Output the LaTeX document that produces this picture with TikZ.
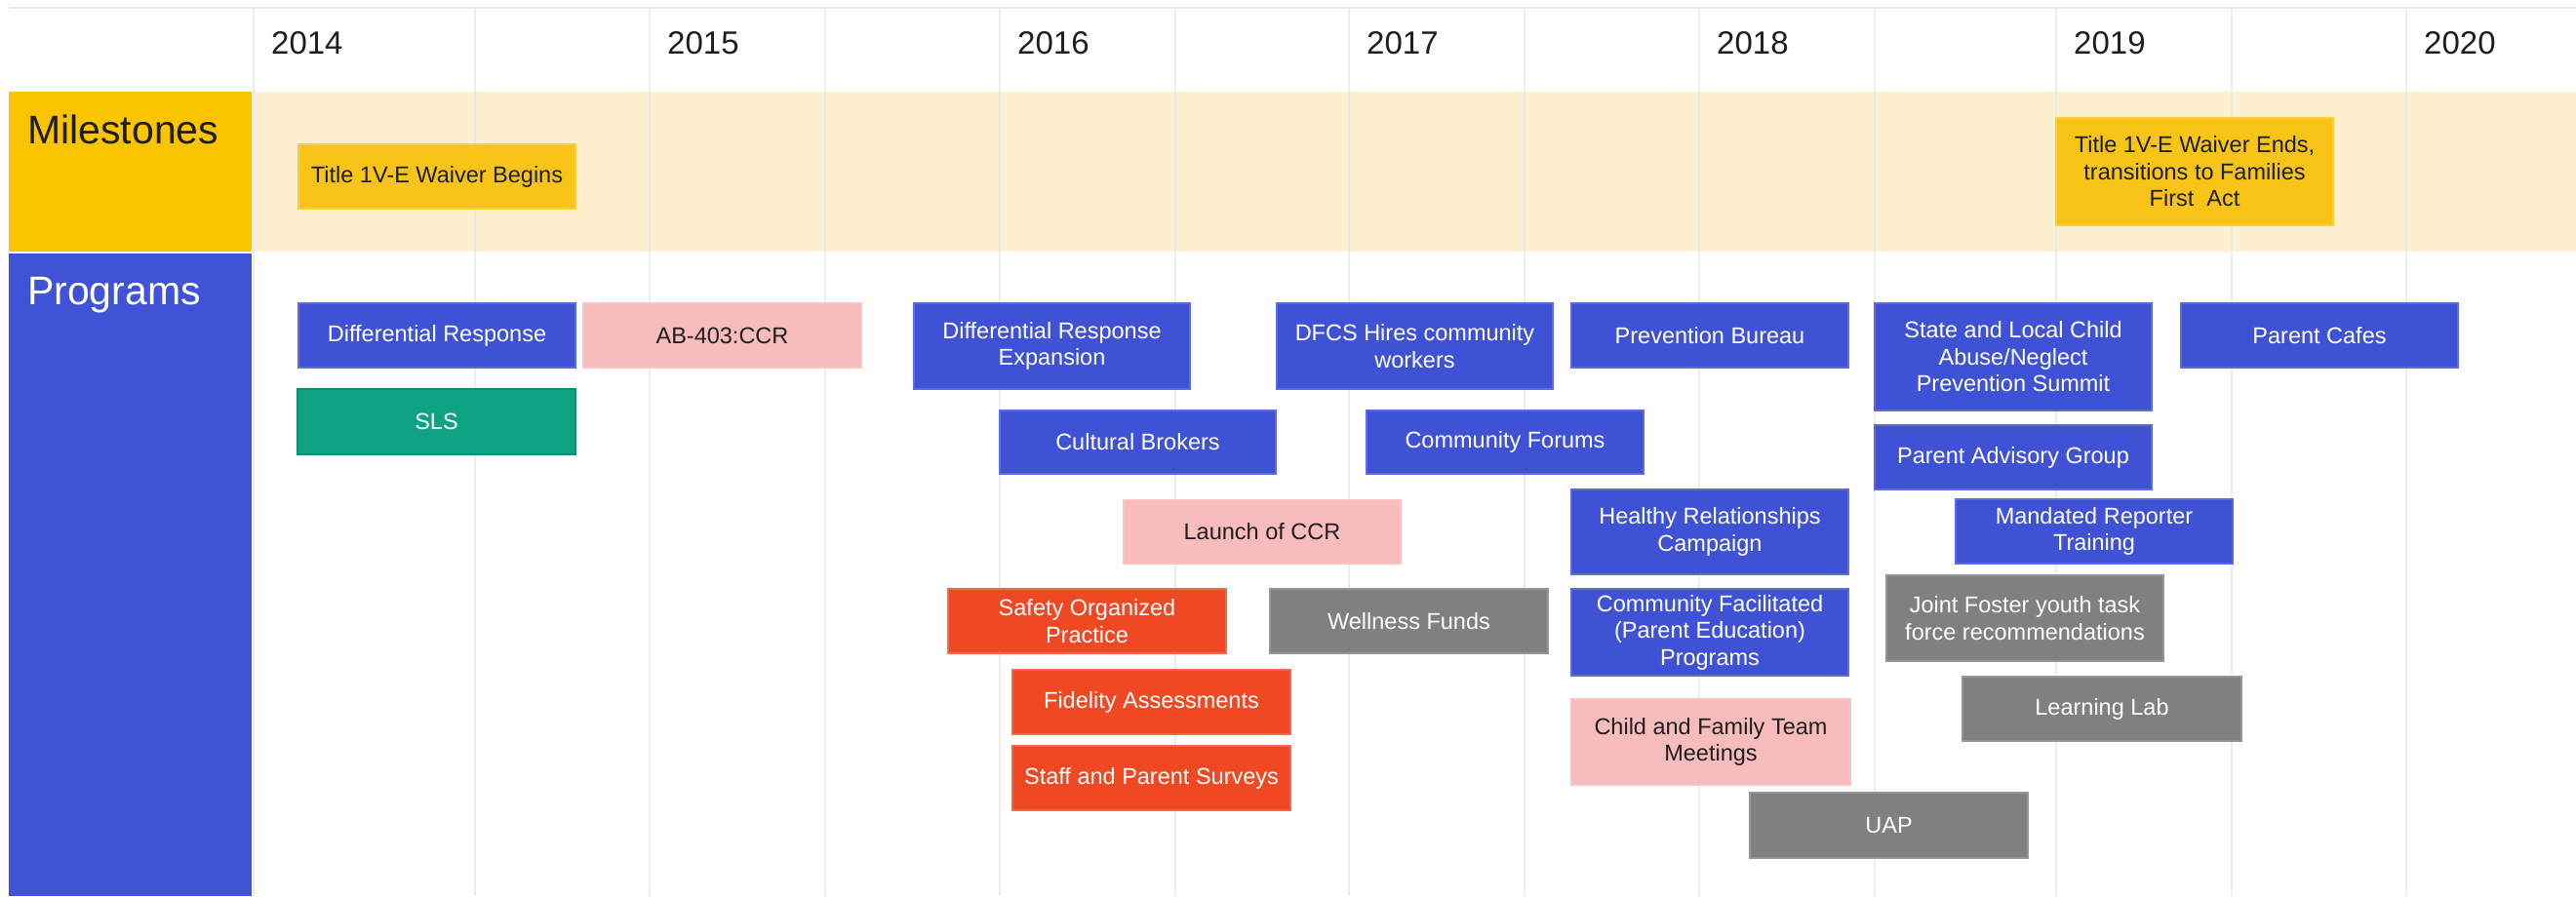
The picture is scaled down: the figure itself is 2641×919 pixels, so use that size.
\documentclass[tikz,border=0pt]{standalone}
\usepackage{fontspec}
\setmainfont{Liberation Sans}
\definecolor{labY}{RGB}{251,196,0}
\definecolor{labB}{RGB}{64,83,214}
\definecolor{cream}{RGB}{253,240,206}
\definecolor{bblue}{RGB}{63,82,214}
\definecolor{bblueE}{RGB}{92,108,224}
\definecolor{byel}{RGB}{248,196,24}
\definecolor{byelE}{RGB}{250,205,60}
\definecolor{bpink}{RGB}{249,188,188}
\definecolor{bpinkE}{RGB}{250,196,196}
\definecolor{bgreen}{RGB}{14,164,131}
\definecolor{bgreenE}{RGB}{20,140,112}
\definecolor{borange}{RGB}{240,72,34}
\definecolor{borangeE}{RGB}{246,104,74}
\definecolor{bgray}{RGB}{128,128,128}
\definecolor{bgrayE}{RGB}{150,150,150}
\definecolor{gridc}{RGB}{232,232,234}
\definecolor{txt}{RGB}{30,30,30}
\newcommand\tbox[7]{\node[bx,#2,minimum width={#5-#3},minimum height={#6-#4}] (#1) at (#3,#4) {#7};}
\begin{document}
\begin{tikzpicture}[x=1pt,y=-1pt,
  bx/.style={anchor=north west,inner sep=0pt,outer sep=0pt,align=center,
    font=\fontsize{23.5}{27.5}\selectfont,line width=1.5pt},
  blueb/.style={fill=bblue,draw=bblueE,text=white},
  yelb/.style={fill=byel,draw=byelE,text=txt},
  pinkb/.style={fill=bpink,draw=bpinkE,text=txt},
  greenb/.style={fill=bgreen,draw=bgreenE,text=white},
  orangeb/.style={fill=borange,draw=borangeE,text=white},
  grayb/.style={fill=bgray,draw=bgrayE,text=white},
  yr/.style={anchor=base west,inner sep=0pt,text=txt,font=\fontsize{33}{33}\selectfont},
  lab/.style={anchor=base west,inner sep=0pt,font=\fontsize{41}{41}\selectfont},
  gridl/.style={draw=gridc,line width=2pt}]
\useasboundingbox (0,0) rectangle (2641,919);
\fill[white] (0,0) rectangle (2641,919);
% milestone band
\fill[cream] (258,94) rectangle (2641,258);
% top line
\draw[gridl] (9,8) -- (2641,8);
% grid lines
\foreach \gx in {260,487,666,846,1025,1205,1383,1563,1742,1922,2108,2288,2467}
  \draw[gridl,opacity=0.8] (\gx,8) -- (\gx,919);
% label column
\fill[labY] (9,94) rectangle (258,258);
\fill[labB] (9,260) rectangle (258,919);
\node[lab,text=txt] (lblM) at (28,147) {Milestones};
\node[lab,text=white] (lblP) at (28,312) {Programs};
% years
\foreach \gx/\yv in {260/2014,666/2015,1025/2016,1383/2017,1742/2018,2108/2019,2467/2020}
  \node[yr] (y\yv) at (\gx+18,55) {\yv};
% milestones
\tbox{mBegin}{yelb}{306}{148}{590}{214}{Title 1V-E Waiver Begins}
\tbox{mEnd}{yelb}{2108}{121}{2392}{231}{Title 1V-E Waiver Ends,\\transitions to Families\\First\ \ Act}
% programs
\tbox{pDR}{blueb}{306}{311}{590}{377}{Differential Response}
\tbox{pAB}{pinkb}{598}{311}{883}{377}{AB-403:CCR}
\tbox{pSLS}{greenb}{305}{399}{590}{466}{SLS}
\tbox{pDRE}{blueb}{937}{311}{1220}{399}{Differential Response\\Expansion}
\tbox{pDFCS}{blueb}{1309}{311}{1592}{399}{DFCS Hires community\\workers}
\tbox{pPB}{blueb}{1611}{311}{1895}{377}{Prevention Bureau}
\tbox{pState}{blueb}{1922}{311}{2206}{421}{State and Local Child\\Abuse/Neglect\\Prevention Summit}
\tbox{pCafes}{blueb}{2236}{311}{2520}{377}{Parent Cafes}
\tbox{pCB}{blueb}{1025}{421}{1308}{486}{Cultural Brokers}
\tbox{pCF}{blueb}{1401}{421}{1685}{486}{Community Forums}
\tbox{pPAG}{blueb}{1922}{436}{2206}{502}{Parent Advisory Group}
\tbox{pLaunch}{pinkb}{1152}{513}{1436}{578}{Launch of CCR}
\tbox{pHRC}{blueb}{1611}{502}{1895}{589}{Healthy Relationships\\Campaign}
\tbox{pMRT}{blueb}{2005}{512}{2289}{578}{Mandated Reporter\\Training}
\tbox{pSOP}{orangeb}{972}{604}{1257}{670}{Safety Organized\\Practice}
\tbox{pWF}{grayb}{1302}{604}{1587}{670}{Wellness Funds}
\tbox{pCFP}{blueb}{1611}{604}{1895}{693}{Community Facilitated\\(Parent Education)\\Programs}
\tbox{pJF}{grayb}{1934}{590}{2218}{678}{Joint Foster youth task\\force recommendations}
\tbox{pFA}{orangeb}{1038}{687}{1323}{753}{Fidelity Assessments}
\tbox{pLL}{grayb}{2012}{694}{2298}{760}{Learning Lab}
\tbox{pCFT}{pinkb}{1611}{717}{1897}{805}{Child and Family Team\\Meetings}
\tbox{pSPS}{orangeb}{1038}{765}{1323}{831}{Staff and Parent Surveys}
\tbox{pUAP}{grayb}{1794}{813}{2079}{880}{UAP}
\end{tikzpicture}
\end{document}
